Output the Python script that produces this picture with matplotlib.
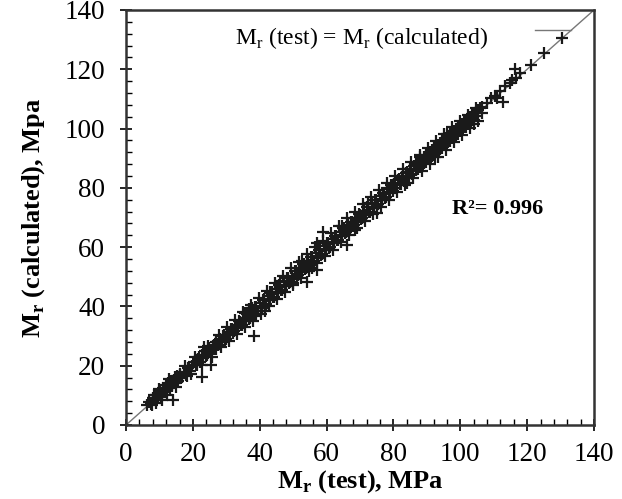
import numpy as np
import matplotlib
matplotlib.use("Agg")
import matplotlib.pyplot as plt
from matplotlib.ticker import MultipleLocator

plt.rcParams['font.family'] = ['Liberation Serif', 'DejaVu Serif']
plt.rcParams['mathtext.fontset'] = 'custom'
plt.rcParams['mathtext.rm'] = 'Liberation Serif'
plt.rcParams['mathtext.bf'] = 'Liberation Serif:bold'

# Mr (test) vs Mr (calculated), MPa
mr_test = [
    6.2, 7.0, 7.5, 8.1, 8.6, 9.0, 9.4, 9.9, 10.3, 10.8, 11.2, 11.6, 12.0, 12.3, 12.7, 13.1, 13.5, 13.9,
    14.4, 14.8, 15.3, 15.7, 16.2, 16.8, 17.3, 17.9, 18.4, 19.0, 19.6, 10.7, 14.0, 7.7, 12.5, 11.0, 9.6,
    20.2, 20.8, 21.4, 22.0, 22.6, 23.1, 23.7, 24.2, 24.8, 25.3, 25.9, 26.4, 27.0, 27.6, 28.1, 28.7, 29.3,
    29.9, 30.5, 31.0, 31.6, 32.2, 32.8, 33.4, 34.0, 34.6, 35.2, 35.8, 36.4, 37.0, 37.6, 38.2, 38.8, 39.4,
    22.6, 25.3, 24.5, 35.5, 38.3, 37.8, 39.0, 36.8,
    40.0, 40.6, 41.2, 41.8, 42.4, 43.0, 43.6, 44.2, 44.8, 45.4, 46.0, 46.6, 47.2, 47.8, 48.4, 49.0, 49.6,
    50.2, 50.8, 51.4, 52.0, 52.6, 53.2, 53.8, 54.4, 55.0, 55.6, 56.2, 56.8, 57.4, 58.0, 58.6, 59.2, 59.8,
    54.2, 57.0, 57.0, 41.5, 43.0, 46.0, 50.0, 52.5, 55.5,
    60.4, 61.0, 61.6, 62.2, 62.8, 63.4, 64.0, 64.6, 65.2, 65.8, 66.4, 67.0, 67.6, 68.2, 68.8, 69.4, 70.0,
    70.6, 71.2, 71.8, 72.4, 73.0, 73.6, 74.2, 74.8, 75.4, 76.0, 76.6, 77.2, 77.8, 78.4, 79.0, 79.6,
    59.0, 66.0, 75.0, 64.5, 68.5, 72.5, 78.0,
    80.2, 80.8, 81.4, 82.0, 82.6, 83.2, 83.8, 84.4, 85.0, 85.6, 86.2, 86.8, 87.4, 88.0, 88.6, 89.2, 89.8,
    90.4, 91.0, 91.6, 92.2, 92.8, 93.4, 94.0, 94.6, 95.2, 95.8, 96.4, 97.0, 97.6, 98.2, 98.8, 99.4, 100.0,
    100.6, 101.2, 101.8, 102.4, 103.0, 103.6, 104.2, 104.8, 105.4, 84.0, 88.0, 92.5, 96.0, 104.0,
    106.5, 108.0, 109.2, 110.3, 111.0, 112.0, 112.8, 113.5, 114.8, 115.6, 116.5, 116.8, 118.0, 121.3,
    125.0, 130.3,
    # second pass over the band (wider scatter)
    8.4, 9.1, 10.0, 10.5, 11.4, 12.2, 13.0, 13.7, 14.6, 15.1, 16.0, 16.5, 17.5, 18.1, 18.8, 19.4,
    20.5, 21.2, 21.9, 22.8, 23.4, 24.0, 24.6, 25.6, 26.2, 26.9, 27.8, 28.4, 29.0, 29.6, 30.2, 30.8,
    31.4, 32.0, 32.6, 33.2, 33.8, 34.4, 35.0, 35.6, 36.2, 36.8, 37.4, 38.0, 38.6, 39.2, 39.8, 40.4,
    41.0, 41.6, 42.2, 42.8, 43.4, 44.0, 44.6, 45.2, 45.8, 46.4, 47.0, 47.6, 48.2, 48.8, 49.4, 50.0,
    50.6, 51.2, 51.8, 52.4, 53.0, 53.6, 54.2, 54.8, 55.4, 56.0, 56.6, 57.2, 57.8, 58.4, 59.0, 59.6,
    60.2, 60.8, 61.4, 62.0, 62.6, 63.2, 63.8, 64.4, 65.0, 65.6, 66.2, 66.8, 67.4, 68.0, 68.6, 69.2,
    69.8, 70.4, 71.0, 71.6, 72.2, 72.8, 73.4, 74.0, 74.6, 75.2, 75.8, 76.4, 77.0, 77.6, 78.2, 78.8,
    79.4, 80.0, 80.6, 81.2, 81.8, 82.4, 83.0, 83.6, 84.2, 84.8, 85.4, 86.0, 86.6, 87.2, 87.8, 88.4,
    89.0, 89.6, 90.2, 90.8, 91.4, 92.0, 92.6, 93.2, 93.8, 94.4, 95.0, 95.6, 96.2, 96.8, 97.4, 98.0,
    98.6, 99.2, 99.8, 100.4, 101.0, 101.6, 102.2, 102.8, 103.4, 104.0, 104.6, 105.2, 105.8, 106.4,
]
mr_calc = [
    6.8, 7.9, 7.2, 9.0, 8.3, 10.1, 9.2, 10.8, 11.4, 10.2, 12.5, 11.0, 13.4, 12.1, 14.0, 12.6, 14.9, 13.5,
    15.2, 14.1, 16.4, 15.0, 16.9, 16.1, 17.8, 17.0, 19.1, 18.2, 19.9, 8.4, 8.4, 6.7, 13.9, 11.9, 9.9,
    21.1, 20.3, 22.3, 21.4, 23.5, 22.5, 24.9, 23.6, 26.0, 24.3, 26.6, 25.8, 27.9, 27.0, 29.0, 28.1, 30.2,
    29.1, 31.3, 30.4, 32.4, 31.6, 33.9, 32.7, 34.8, 33.9, 36.2, 35.0, 37.6, 36.1, 38.5, 37.2, 39.8, 38.4,
    16.3, 20.2, 26.8, 37.9, 30.0, 39.6, 36.9, 39.2,
    41.2, 39.6, 42.5, 40.9, 43.6, 42.2, 44.8, 43.3, 45.9, 44.6, 46.7, 45.7, 48.3, 47.0, 49.5, 48.2, 50.3,
    49.4, 51.9, 50.7, 53.1, 51.7, 54.2, 53.0, 55.3, 54.1, 56.6, 55.3, 57.9, 56.5, 59.1, 57.8, 60.3, 58.9,
    48.4, 61.5, 52.3, 38.6, 44.8, 48.5, 47.8, 55.2, 53.0,
    61.5, 60.0, 62.8, 61.4, 63.9, 62.5, 65.1, 63.8, 66.3, 65.0, 67.5, 66.1, 68.4, 67.3, 69.9, 68.6, 71.0,
    69.8, 72.3, 71.0, 73.5, 72.0, 74.7, 73.3, 75.8, 74.6, 77.2, 75.8, 78.4, 77.0, 79.5, 78.2, 80.6,
    65.0, 60.7, 71.4, 67.0, 65.8, 75.0, 79.9,
    81.4, 80.0, 82.6, 81.2, 83.5, 82.3, 85.0, 83.6, 86.2, 84.8, 87.4, 86.0, 88.6, 87.2, 89.5, 88.4, 91.0,
    89.6, 92.1, 90.9, 93.4, 92.0, 94.3, 93.2, 95.7, 94.4, 96.9, 95.5, 98.0, 96.8, 99.3, 97.9, 100.5, 99.2,
    101.6, 100.4, 102.8, 101.5, 104.0, 102.8, 105.3, 104.1, 106.2, 81.8, 90.5, 90.4, 98.3, 101.6,
    107.2, 108.6, 110.2, 111.1, 110.4, 112.6, 109.1, 114.3, 115.2, 116.5, 120.0, 117.2, 118.6, 121.4,
    125.4, 130.4,
    10.2, 7.4, 12.3, 9.6, 12.0, 10.1, 15.4, 13.0, 16.1, 12.9, 17.2, 15.9, 19.8, 16.5, 19.6, 17.2,
    22.9, 20.1, 23.0, 20.4, 26.2, 23.2, 25.9, 22.8, 27.1, 25.8, 30.4, 26.2, 30.1, 28.8, 32.9, 28.4,
    32.5, 31.2, 35.4, 30.7, 35.0, 33.6, 38.2, 33.1, 37.4, 35.9, 40.6, 35.2, 39.9, 38.3, 42.9, 37.5,
    42.3, 40.5, 45.3, 40.0, 44.6, 43.1, 47.9, 42.4, 47.1, 45.5, 50.2, 44.9, 49.5, 47.8, 52.8, 47.2,
    51.9, 50.3, 55.1, 49.6, 54.3, 52.7, 57.6, 52.0, 56.7, 55.1, 60.0, 54.5, 59.0, 57.4, 62.1, 56.9,
    61.5, 59.7, 64.8, 59.2, 63.9, 62.3, 67.0, 61.6, 66.3, 64.7, 69.8, 64.0, 68.6, 67.1, 72.0, 66.4,
    71.1, 69.5, 74.5, 68.8, 73.6, 71.8, 76.9, 71.2, 75.9, 74.3, 79.3, 73.6, 78.4, 76.6, 81.8, 76.0,
    80.8, 79.0, 84.0, 78.5, 83.1, 81.4, 86.4, 80.8, 85.5, 83.9, 88.8, 83.2, 87.9, 86.2, 91.1, 85.6,
    90.3, 88.6, 93.5, 88.0, 92.7, 91.0, 95.9, 90.4, 95.1, 93.4, 98.2, 92.9, 97.5, 95.8, 100.5, 95.3,
    99.9, 98.1, 102.7, 97.8, 102.3, 100.5, 104.6, 100.2, 104.8, 103.0, 106.9, 102.6, 107.0, 105.2,
]
line_ends = [0, 140]
r2 = 0.996

fig = plt.figure(figsize=(6.22, 4.99), dpi=100)
ax = fig.add_axes([0.2026, 0.1483, 0.7524, 0.8317])

# line of equality
ax.plot(line_ends, line_ends, color='#777777', lw=1.0, zorder=1)
ax.plot(mr_test, mr_calc, '+', color='#1a1a1a', ms=8, mew=1.6, zorder=2)

ax.set_xlim(0, 140)
ax.set_ylim(0, 140)
ax.xaxis.set_major_locator(MultipleLocator(20))
ax.yaxis.set_major_locator(MultipleLocator(20))
ax.xaxis.set_minor_locator(MultipleLocator(4))
ax.yaxis.set_minor_locator(MultipleLocator(4))
ax.tick_params(which='major', direction='inout', length=8, width=1.2, labelsize=19.5)
ax.tick_params(axis='x', which='major', pad=8)
ax.tick_params(axis='y', which='major', pad=11)
ax.tick_params(which='minor', direction='in', length=4, width=1.0)
for s in ax.spines.values():
    s.set_linewidth(1.8)
    s.set_color('#333333')

ax.set_xlabel(r'M$_\mathbf{r}$ (test), MPa', fontsize=19, fontweight='bold', labelpad=1)
ax.set_ylabel(r'M$_\mathbf{r}$ (calculated), Mpa', fontsize=19, fontweight='bold', labelpad=13)

ax.text(0.502, 0.933, r'M$_\mathrm{r}$ (test) = M$_\mathrm{r}$ (calculated)', transform=ax.transAxes,
        fontsize=17, ha='center', va='center')
ax.plot([0.874, 0.95], [0.951, 0.951], transform=ax.transAxes, color='#777777', lw=1.0)
ax.text(97.5, 73, 'R²= %.3f' % r2, fontsize=16, fontweight='bold', ha='left', va='center')

fig.savefig('out.png', dpi=100)
